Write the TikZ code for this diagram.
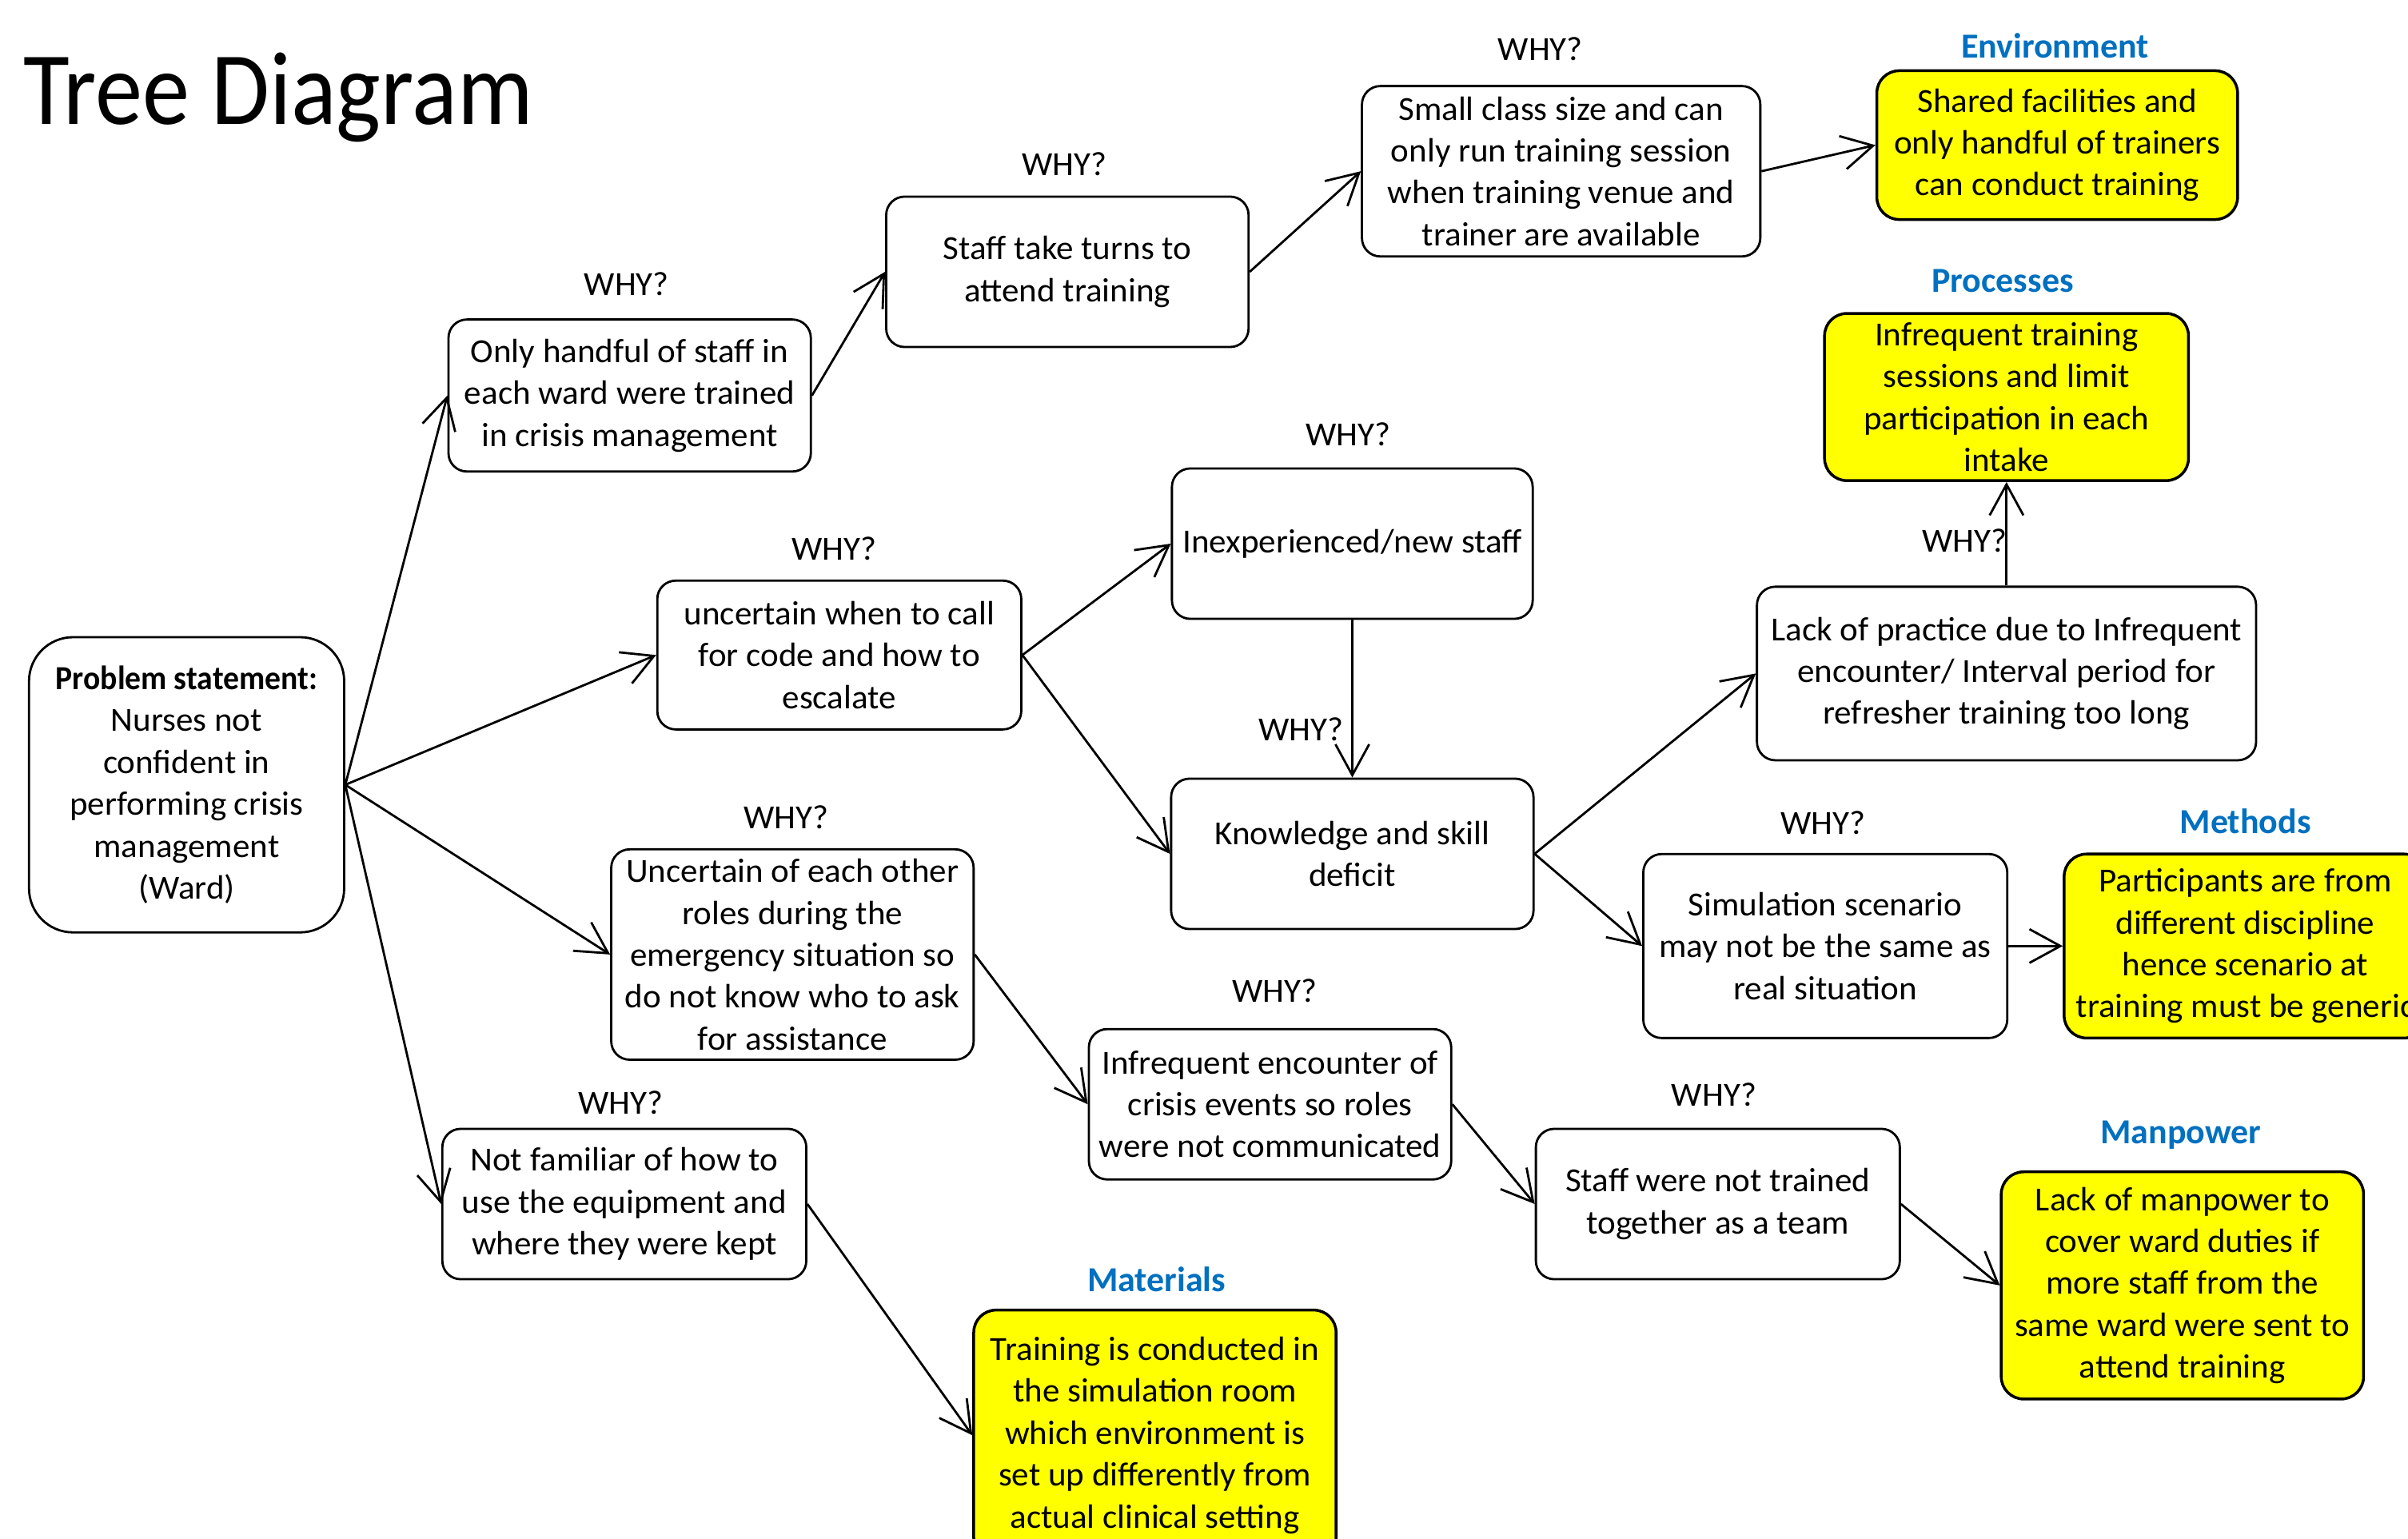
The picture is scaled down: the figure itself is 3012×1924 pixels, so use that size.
\documentclass[tikz,border=0pt]{standalone}
\usepackage{fontspec}
\setmainfont{Carlito}[FakeStretch=1.02]
\newfontfamily\labfont{Carlito}
\newfontfamily\tightfont{Carlito}[FakeStretch=0.94]
\newfontfamily\titfont{Carlito}[FakeStretch=0.91]
\usetikzlibrary{arrows.meta}
\definecolor{catblue}{RGB}{0,112,192}
\definecolor{hiyellow}{RGB}{255,255,0}
\tikzset{
  wbox/.style={draw=black, line width=0.8pt, rounded corners=0.23cm, fill=white, align=center, inner sep=0pt,
     font=\fontsize{12}{14.9}\selectfont},
  ybox/.style={wbox, fill=hiyellow, line width=1pt, rounded corners=0.28cm},
  why/.style={font=\fontsize{12}{14.9}\selectfont, inner sep=0pt},
  cat/.style={font=\labfont\bfseries\fontsize{12.5}{15}\selectfont, text=catblue, inner sep=0pt},
  arr/.style={-{Straight Barb[length=11pt,width=12pt]}, line width=0.8pt},
}
\begin{document}
\begin{tikzpicture}[x=0.01cm, y=-0.01cm]
\clip (0,0) rectangle (3012,1924);
\fill[white] (0,0) rectangle (3012,1924);

\node[anchor=west, inner sep=0pt, font=\titfont\fontsize{37}{40}\selectfont] (title) at (28.8,122) {Tree Diagram};

% boxes
\node[wbox, rounded corners=0.55cm, minimum width=3.94cm, minimum height=3.69cm] (A) at (233.4,981.6)
  {{\tightfont\bfseries Problem statement:}\\Nurses not\\confident in\\performing crisis\\management\\(Ward)};
\node[wbox, minimum width=4.53cm, minimum height=1.90cm] (B) at (787.6,494.7)
  {Only handful of staff in\\each ward were trained\\in crisis management};
\node[wbox, minimum width=4.53cm, minimum height=1.88cm] (C) at (1335.1,340.0)
  {Staff take turns to\\attend training};
\node[wbox, minimum width=4.98cm, minimum height=2.13cm] (D) at (1952.7,214.2)
  {Small class size and can\\only run training session\\when training venue and\\trainer are available};
\node[ybox, minimum width=4.51cm, minimum height=1.86cm] (E) at (2573.2,181.5)
  {Shared facilities and\\only handful of trainers\\can conduct training};
\node[wbox, minimum width=4.55cm, minimum height=1.86cm] (F) at (1049.8,819.3)
  {uncertain when to call\\for code and how to\\escalate};
\node[wbox, minimum width=4.51cm, minimum height=1.88cm] (G) at (1691.5,680)
  {Inexperienced/new staff};
\node[wbox, minimum width=4.53cm, minimum height=1.88cm] (H) at (1691.5,1068)
  {Knowledge and skill\\deficit};
\node[wbox, minimum width=4.53cm, minimum height=2.63cm] (I) at (991.2,1193.9)
  {Uncertain of each other\\roles during the\\emergency situation so\\do not know who to ask\\for assistance};
\node[wbox, minimum width=4.53cm, minimum height=1.88cm] (J) at (1588.6,1381.2)
  {Infrequent encounter of\\crisis events so roles\\were not communicated};
\node[wbox, minimum width=4.55cm, minimum height=1.88cm] (K) at (780.9,1506)
  {Not familiar of how to\\use the equipment and\\where they were kept};
\node[ybox, minimum width=4.53cm, minimum height=3.13cm] (L) at (1444.6,1795.2)
  {Training is conducted in\\the simulation room\\which environment is\\set up differently from\\actual clinical setting};
\node[ybox, minimum width=4.55cm, minimum height=2.09cm] (M) at (2509.8,496.6)
  {Infrequent training\\sessions and limit\\participation in each\\intake};
\node[wbox, minimum width=6.24cm, minimum height=2.17cm] (N) at (2509.8,842.4)
  {Lack of practice due to Infrequent\\encounter/ Interval period for\\refresher training too long};
\node[wbox, minimum width=4.55cm, minimum height=2.30cm] (O) at (2283.1,1183.3)
  {Simulation scenario\\may not be the same as\\real situation};
\node[ybox, minimum width=4.53cm, minimum height=2.30cm] (P) at (2808.5,1183.3)
  {Participants are from\\different discipline\\hence scenario at\\training must be generic};
\node[wbox, minimum width=4.55cm, minimum height=1.88cm] (Q) at (2148.7,1506)
  {Staff were not trained\\together as a team};
\node[ybox, minimum width=4.53cm, minimum height=2.84cm] (R) at (2729.8,1607.8)
  {Lack of manpower to\\cover ward duties if\\more staff from the\\same ward were sent to\\attend training};

% WHY? labels
\node[why] (wB) at (783.8,355.4) {WHY?};
\node[why] (wC) at (1331.3,205.5) {WHY?};
\node[why] (wD) at (1926.8,61.5) {WHY?};
\node[why] (wF) at (1043.1,685.8) {WHY?};
\node[why] (wG) at (1686.6,543.6) {WHY?};
\node[why] (wH) at (1627.1,912.5) {WHY?};
\node[why] (wI) at (983.6,1022) {WHY?};
\node[why] (wJ) at (1594.5,1239) {WHY?};
\node[why] (wK) at (776.1,1379.3) {WHY?};
\node[why] (wM) at (2457,676.2) {WHY?};
\node[why] (wO) at (2280.3,1029.7) {WHY?};
\node[why] (wQ) at (2143.9,1369.7) {WHY?};

% category labels
\node[cat] (cE) at (2570.3,57.6) {Environment};
\node[cat] (cM) at (2505,351.5) {Processes};
\node[cat] (cP) at (2808.5,1027.7) {Methods};
\node[cat] (cR) at (2727.8,1419.6) {Manpower};
\node[cat] (cL) at (1446.5,1600.2) {Materials};

% connectors
\draw[arr] (A.east) -- (B.west);
\draw[arr] (A.east) -- (F.west);
\draw[arr] (A.east) -- (I.west);
\draw[arr] (A.east) -- (K.west);
\draw[arr] (B.east) -- (C.west);
\draw[arr] (C.east) -- (D.west);
\draw[arr] (D.east) -- (E.west);
\draw[arr] (F.east) -- (G.west);
\draw[arr] (F.east) -- (H.west);
\draw[arr] (G.south) -- (H.north);
\draw[arr] (I.east) -- (J.west);
\draw[arr] (K.east) -- (L.west);
\draw[arr] (H.east) -- (N.west);
\draw[arr] (H.east) -- (O.west);
\draw[arr] (N.north) -- (M.south);
\draw[arr] (O.east) -- (P.west);
\draw[arr] (J.east) -- (Q.west);
\draw[arr] (Q.east) -- (R.west);
\end{tikzpicture}
\end{document}
